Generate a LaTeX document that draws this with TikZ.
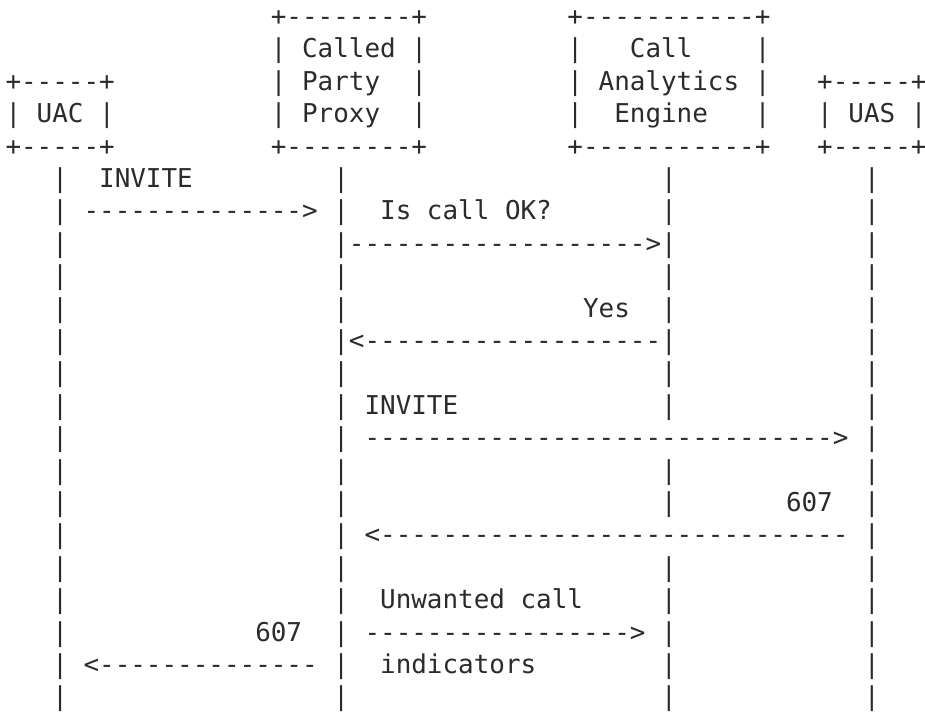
\documentclass[tikz,border=0pt]{standalone}
\usepackage{fontspec}
\setmonofont{DejaVu Sans Mono}
\definecolor{ink}{HTML}{2B2B2B}

\begin{document}
\begin{tikzpicture}[
      x=15.61pt, y=-32.4pt,
      % one character cell of the plain-text drawing
      txt/.style={anchor=base west, inner sep=0pt, outer sep=0pt, text=ink,
        font=\ttfamily\fontsize{25.93pt}{32.4pt}\selectfont},
    ]
    \useasboundingbox (0pt,0pt) rectangle (925pt,-713pt);

  \begin{scope}[shift={(5.5pt,7pt)}]

    % --- UAC box ---
    \foreach \r/\t in {3/{+-----+}, 4/{| UAC |}, 5/{+-----+}} {
      \node[txt] (uacbox\r) at (0,\r) {\t};
    }

    % --- called party proxy box ---
    \node[txt] (cppbox1) at (17,1) {+--------+};
    \node[txt] (cppbox5) at (17,5) {+--------+};
    \foreach \r/\t in {2/Called, 3/Party, 4/Proxy} {
      \node[txt] (cppl\r) at (17,\r) {|};
      \node[txt] (cppt\r) at (19,\r) {\t};
      \node[txt] (cppr\r) at (26,\r) {|};
    }

    % --- call analytics engine box ---
    \node[txt] (caebox1) at (36,1) {+-----------+};
    \node[txt] (caebox5) at (36,5) {+-----------+};
    \foreach \r/\c/\t in {2/40/Call, 3/38/Analytics, 4/39/Engine} {
      \node[txt] (cael\r) at (36,\r) {|};
      \node[txt] (caet\r) at (\c,\r) {\t};
      \node[txt] (caer\r) at (48,\r) {|};
    }

    % --- UAS box ---
    \foreach \r/\t in {3/{+-----+}, 4/{| UAS |}, 5/{+-----+}} {
      \node[txt] (uasbox\r) at (52,\r) {\t};
    }

    % ---- lifelines ----
    \foreach \r in {6,...,22} {
      \node[txt] (uac\r) at (3,\r) {|};
      \node[txt] (cpp\r) at (21,\r) {|};
      \node[txt] (uas\r) at (55,\r) {|};
    }
    \foreach \r in {6,...,13,15,16,18,19,20,21,22} {
      \node[txt] (cae\r) at (42,\r) {|};
    }

    % ---- messages ----
    \foreach \c/\r/\t [count=\k] in {
        6/6/INVITE,
        5/7/{-------------->},
        24/7/{Is call OK?},
        22/8/{------------------->},
        37/10/Yes,
        22/11/{<-------------------},
        23/13/INVITE,
        23/14/{------------------------------>},
        50/16/607,
        23/17/{<------------------------------},
        24/19/{Unwanted call},
        16/20/607,
        23/20/{----------------->},
        5/21/{<--------------},
        24/21/indicators} {
      \node[txt] (msg\k) at (\c,\r) {\t};
    }

  \end{scope}
  \end{tikzpicture}
\end{document}
